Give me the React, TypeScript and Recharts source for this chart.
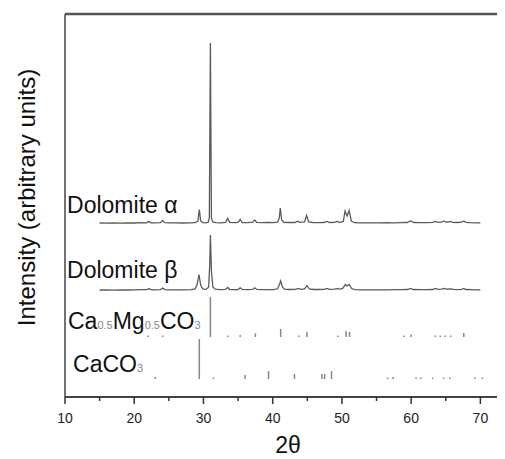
import { Label, Line, LineChart, ReferenceDot, ReferenceLine, XAxis, YAxis } from "recharts";

// measured patterns: [2θ, intensity above own baseline]
const alphaPattern: [number, number][] = [
  [15, 1], [16, 0.8], [17, 1.2], [18, 0.9], [19, 1.1], [20, 1], [21, 1.3], [21.8, 1.2],
  [22.1, 2.6], [22.4, 1.2], [23, 1.1], [23.8, 1.4], [24.1, 3.5], [24.4, 1.4], [25, 1.2],
  [26, 1.1], [27, 1], [28, 1.2], [28.8, 1.3], [29.2, 3], [29.4, 14.5], [29.6, 3], [29.9, 1.4],
  [30.3, 1.2], [30.7, 1.8], [30.85, 6], [31, 181], [31.15, 6], [31.35, 2], [31.8, 1.3],
  [32.5, 1.2], [33.2, 1.6], [33.5, 5.5], [33.8, 1.6], [34.5, 1.3], [35, 1.6], [35.3, 4.5],
  [35.6, 1.5], [36.4, 1.4], [37.1, 1.8], [37.4, 4], [37.7, 1.6], [38.5, 1.3], [39.3, 1.5],
  [40, 1.4], [40.7, 1.8], [40.95, 6], [41.1, 16], [41.3, 4], [41.6, 1.6], [42.3, 1.5],
  [43.2, 1.5], [43.6, 2.8], [43.9, 1.6], [44.6, 2], [44.9, 8.5], [45.2, 2], [45.8, 1.5],
  [46.6, 1.4], [47.4, 1.5], [47.8, 2.6], [48.2, 1.5], [48.9, 1.7], [49.3, 2.5], [49.7, 1.6],
  [50.2, 2.5], [50.45, 13], [50.75, 8], [51.05, 13.5], [51.35, 3], [51.8, 1.3], [52.5, 1.2],
  [53.5, 1.1], [54.5, 1.2], [55.5, 1.2], [56.5, 1.3], [57.5, 1.2], [58.5, 1.3], [59.4, 1.5],
  [59.9, 3], [60.4, 1.5], [61.2, 1.3], [62.2, 1.4], [63.1, 1.6], [63.5, 2.6], [63.9, 1.7],
  [64.4, 1.8], [64.7, 3], [65, 1.8], [65.4, 2], [65.7, 2.6], [66, 1.6], [66.7, 1.5],
  [67.3, 1.8], [67.6, 3], [67.9, 1.6], [68.5, 1.3], [69.2, 1.2], [70, 1.2],
];

const betaPattern: [number, number][] = [
  [15, 1], [16, 1.1], [17, 0.9], [18, 1.2], [19, 1], [20, 1.1], [21, 1.3], [21.8, 1.3],
  [22.1, 2.4], [22.4, 1.3], [23, 1.2], [23.8, 1.4], [24.1, 3], [24.4, 1.4], [25.2, 1.2],
  [26.2, 1.1], [27.2, 1.2], [28.2, 1.4], [28.8, 2], [29.1, 7], [29.35, 16.5], [29.6, 6],
  [29.9, 2], [30.4, 1.6], [30.75, 4], [30.9, 25], [31, 56], [31.15, 20], [31.35, 4],
  [31.7, 1.8], [32.4, 1.4], [33.2, 1.6], [33.5, 3.5], [33.8, 1.5], [34.6, 1.3], [35, 1.5],
  [35.3, 3.2], [35.6, 1.6], [36.4, 1.4], [37.1, 1.6], [37.4, 3.2], [37.7, 1.6], [38.5, 1.3],
  [39.3, 1.4], [40.1, 1.4], [40.7, 2.2], [41, 7], [41.15, 10], [41.4, 4], [41.7, 1.8],
  [42.4, 1.5], [43.3, 1.6], [43.7, 2.5], [44.1, 1.6], [44.6, 2.2], [44.95, 5.5], [45.3, 2],
  [45.9, 1.5], [46.7, 1.5], [47.5, 1.6], [47.8, 2.6], [48.2, 1.6], [48.9, 1.8], [49.3, 2.4],
  [49.7, 1.8], [50.1, 2.6], [50.5, 6.5], [50.75, 5], [51.05, 6.5], [51.4, 2.5], [51.9, 1.4],
  [52.6, 1.2], [53.6, 1.1], [54.6, 1.2], [55.6, 1.2], [56.6, 1.2], [57.6, 1.3], [58.6, 1.3],
  [59.5, 1.5], [59.9, 2.5], [60.3, 1.5], [61.3, 1.3], [62.3, 1.4], [63.1, 1.5], [63.5, 2.5],
  [63.9, 1.6], [64.4, 1.8], [64.7, 2.6], [65.1, 1.8], [65.7, 2.2], [66.1, 1.6], [66.8, 1.4],
  [67.3, 1.7], [67.6, 2.6], [67.9, 1.5], [68.6, 1.3], [69.3, 1.2], [70, 1.2],
];

// reference cards: [2θ, relative height]
const dolomiteSticks: [number, number][] = [
  [22, 1.5], [24.1, 1.5], [31, 40], [33.5, 1.5], [35.3, 2], [37.5, 3.5], [41.15, 8],
  [43.8, 1.5], [44.95, 5], [49.4, 1.5], [50.6, 6], [51.1, 5], [59, 1.5], [60, 2.5],
  [63.5, 1.5], [64.2, 1.5], [64.9, 1.5], [65.7, 1.5], [67.6, 4],
];

const calciteSticks: [number, number][] = [
  [23.05, 2], [29.4, 40], [31.45, 1.5], [36, 4], [39.4, 8], [43.15, 5], [47.1, 5],
  [47.5, 5], [48.5, 8], [56.6, 1.5], [57.4, 2], [60.7, 1.5], [61.4, 1.5], [63.1, 1.5],
  [64.7, 1.5], [65.6, 1.5], [69.2, 1.5], [70.3, 1.5],
];

const xTicks = [10, 15, 20, 25, 30, 35, 40, 45, 50, 55, 60, 65, 70, 75];

const ALPHA_OFFSET = 173;
const BETA_OFFSET = 106;
const DOLOMITE_BASE = 60;
const CALCITE_BASE = 18;
const Y_MAX = 383;

const FONT = "'Liberation Sans', Arial, sans-serif";

const toLine = (points: [number, number][], offset: number) =>
  points.map(([x, y]) => ({ x, y: y + offset }));

const toSticks = (sticks: [number, number][], base: number) =>
  sticks.flatMap(([x, h]) => [
    { x, y: base },
    { x, y: base + h },
    { x, y: null },
  ]);

function XTick({ x, y, payload }: any) {
  const major = payload.value % 10 === 0;
  return (
    <g>
      <line x1={x} x2={x} y1={y} y2={y + (major ? 7 : 4)} stroke="#333" strokeWidth={1.5} />
      {major && (
        <text x={x} y={y + 26} textAnchor="middle" fontSize={14} fill="#222" fontFamily={FONT}>
          {payload.value}
        </text>
      )}
    </g>
  );
}

function NameLabel({ viewBox, parts }: any) {
  return (
    <text x={viewBox.x} y={viewBox.y} fontSize={23} fill="#111" fontFamily={FONT}>
      {parts.map(([t, sub]: [string, boolean], i: number) => (
        <tspan key={i} fontSize={sub ? 11 : 23} fill={sub ? "#888" : "#111"}>
          {t}
        </tspan>
      ))}
    </text>
  );
}

export default function App() {
  return (
    <div style={{ width: 497, height: 451, overflow: "hidden", fontFamily: FONT }}>
      <LineChart width={507} height={451} margin={{ top: 6, right: 0, bottom: 0, left: 0 }}>
        <XAxis
          type="number"
          dataKey="x"
          domain={[10, 75]}
          ticks={xTicks}
          interval={0}
          height={62}
          tickSize={0}
          tickMargin={0}
          tickLine={false}
          tick={<XTick />}
          axisLine={{ stroke: "#444", strokeWidth: 2 }}
          allowDataOverflow
        >
          <Label
            content={({ viewBox }: any) => (
              <text
                x={viewBox.x + viewBox.width / 2 - 2}
                y={viewBox.y + 56}
                textAnchor="middle"
                fontSize={23}
                fill="#111"
                fontFamily={FONT}
              >
                2θ
              </text>
            )}
          />
        </XAxis>
        <YAxis
          type="number"
          domain={[0, Y_MAX]}
          width={57}
          tick={false}
          tickLine={false}
          axisLine={{ stroke: "#444", strokeWidth: 1.5 }}
          allowDataOverflow
        >
          <Label
            content={({ viewBox }: any) => {
              const cx = 27;
              const cy = viewBox.y + viewBox.height / 2 - 8;
              return (
                <text
                  x={cx}
                  y={cy}
                  transform={`rotate(-90, ${cx}, ${cy})`}
                  textAnchor="middle"
                  fontSize={24}
                  fill="#111"
                  fontFamily={FONT}
                >
                  Intensity (arbitrary units)
                </text>
              );
            }}
          />
        </YAxis>
        <ReferenceLine y={Y_MAX} stroke="#555" strokeWidth={2.5} />
        <Line
          data={toLine(alphaPattern, ALPHA_OFFSET)}
          dataKey="y"
          stroke="#5a5a5a"
          strokeWidth={1.3}
          dot={false}
          isAnimationActive={false}
        />
        <Line
          data={toLine(betaPattern, BETA_OFFSET)}
          dataKey="y"
          stroke="#5a5a5a"
          strokeWidth={1.3}
          dot={false}
          isAnimationActive={false}
        />
        <Line
          data={toSticks(dolomiteSticks, DOLOMITE_BASE)}
          dataKey="y"
          stroke="#888"
          strokeWidth={1.5}
          dot={false}
          connectNulls={false}
          isAnimationActive={false}
        />
        <Line
          data={toSticks(calciteSticks, CALCITE_BASE)}
          dataKey="y"
          stroke="#888"
          strokeWidth={1.5}
          dot={false}
          connectNulls={false}
          isAnimationActive={false}
        />
        <ReferenceDot x={10.3} y={184} r={0} stroke="none">
          <Label content={(p: any) => <NameLabel {...p} parts={[["Dolomite α", false]]} />} />
        </ReferenceDot>
        <ReferenceDot x={10.3} y={119} r={0} stroke="none">
          <Label content={(p: any) => <NameLabel {...p} parts={[["Dolomite β", false]]} />} />
        </ReferenceDot>
        <ReferenceDot x={10.43} y={68} r={0} stroke="none">
          <Label
            content={(p: any) => (
              <NameLabel
                {...p}
                parts={[["Ca", false], ["0.5", true], ["Mg", false], ["0.5", true], ["CO", false], ["3", true]]}
              />
            )}
          />
        </ReferenceDot>
        <ReferenceDot x={11.16} y={25} r={0} stroke="none">
          <Label content={(p: any) => <NameLabel {...p} parts={[["CaCO", false], ["3", true]]} />} />
        </ReferenceDot>
      </LineChart>
    </div>
  );
}
